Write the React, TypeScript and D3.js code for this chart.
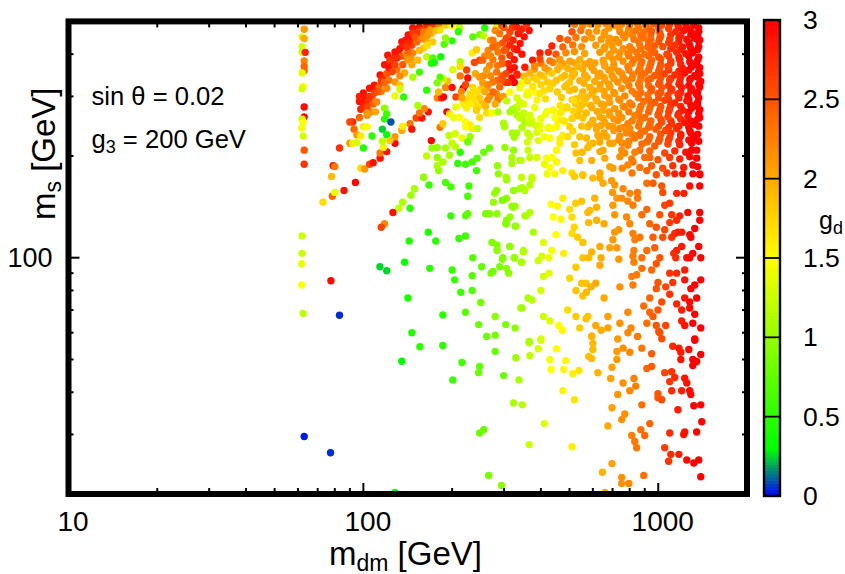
import React from "react";
import * as d3 from "d3";

type P = [number, number, number]; // [m_dm, m_s, g_d]

const xMajor = [10, 100, 1000];
const xMinor = [20, 30, 40, 50, 60, 70, 80, 90, 200, 300, 400, 500, 600, 700, 800, 900];
const yMajor = [100];
const yMinor = [30, 40, 50, 60, 70, 80, 90, 200, 300, 400];
const barTicks = [0, 0.5, 1, 1.5, 2, 2.5, 3];
const barLabels = ["0", "0.5", "1", "1.5", "2", "2.5", "3"];
const paletteStops = [0, 0.3, 1.5, 3];
const paletteColours = ["#0000ff", "#00ff00", "#ffff00", "#ff0000"];

const stripPoints: P[] = [
  [63,474,2.1],[62,450,1.3],[63,445,2.0],[62,421,1.3],[62,405,1.25],[63.5,405,2.8],[63,382,2.2],[63,368,2.4],[63,357,2.4],[62,352,1.35],
  [62.5,321,1.5],[62,316,1.3],[63,279,2.95],[63,261,2.95],[62,257,1.25],[62.5,252,1.5],[61.8,242,1.45],[62.5,229,1.3],[63,208,2.5],[63,189,2.7],
  [62,116,1.25],[62,103,1.25],[61.8,96,1.4],[61.8,83,1.5],[62.5,68.4,1.2],[77.6,85.5,2.95],[83,67.6,0.05],[63,29.6,0.03],[77.4,26.5,0.05],
];

const ridgeOnePoints: P[] = [
  [100,307,2.9],[101,297,2.9],[105,317,2.9],[109,324,2.9],[114,347,2.9],[118,372,2.9],[121,397,2.9],[128,406,2.9],[135,435,2.9],[142,456,2.9],[147,478,2.9],[155,481,2.9],[164,485,2.8],
  [104,290,2.7],[107,300,2.5],[110,315,2.9],[113,320,2.4],[116,340,2.8],[120,350,2.5],[122,365,2.9],[125,380,2.9],[127,390,2.8],[131,400,2.9],[133,415,2.9],[137,425,2.85],[139,440,2.9],[144,445,2.9],[146,425,2.6],[150,435,2.6],[152,460,2.8],[156,470,2.7],[160,450,2.2],[163,440,2.0],[170,460,1.9],[135,395,2.5],[140,400,2.2],[145,390,2.1],[130,360,2.3],[122,335,2.3],[115,310,2.2],[108,285,2.4],[106,270,2.2],[110,270,2.0],[100,285,2.8],[98,275,2.8],[97,290,2.9],[97,300,2.85],
  [172,485,2.7],[180,490,2.3],[190,488,1.8],[200,485,1.5],[212,480,1.2],
  [103,279,2.6],[103,264,2.2],[111,289,2.2],[120,317,2.2],[128,331,2.1],[138,352,2.0],[146,372,2.0],[153,384,1.9],[160,417,1.8],[172,435,1.8],[147,403,2.2],[136,372,2.5],[128,372,2.6],[123,384,2.7],[142,406,2.4],[152,435,2.4],[160,466,2.3],[168,472,2.1],[147,462,2.7],[142,432,2.8],
  [105,300,2.7],[109,307,2.6],[115,333,2.7],[125,355,2.6],[130,390,2.75],[140,420,2.7],[150,450,2.5],[158,445,2.2],[165,455,2.1],[112,310,2.5],[118,330,2.4],[133,345,2.2],[141,385,2.1],[155,410,1.9],[165,425,1.7],[176,470,1.9],
  [133,324,1.8],[128,301,1.4],[133,315,1.3],[137,299,0.5],[118,277,0.95],[120,266,0.6],[118,257,0.5],[124,252,0.1],[116,240,0.25],[120,231,0.35],[107,229,0.5],[100,211,0.45],[147,342,1.1],[155,354,0.6],[164,313,0.5],[164,393,1.2],[172,390,0.7],[170,376,0.45],[174,378,0.4],[183,393,0.4],[188,428,0.7],[190,447,1.0],[200,438,0.5],[210,466,0.5],[182,472,1.7],
  [92,252,2.8],[90,252,2.6],[93,240,2.4],[95,231,2.1],[98,229,1.6],[100,244,1.6],[103,244,1.5],[97,260,2.4],[103,268,2.1],[90,218,2.1],[92,218,1.6],[95,219,1.3],[83,211,2.7],[79,187,2.9],[80,186,2.3],[78,174,1.9],[78.5,152,2.4],[80,156,1.4],[73,146,1.7],[86,158,2.9],[94,167,3],
  [98,184,1.7],[101,183,2.1],[105,189,2.6],[108,191,2.9],[114,197,2.9],[114,204,2.3],[120,206,2.9],[117,212,1.6],[116,221,1.2],[128,218,3],[128,228,2.1],[123,222,1.8],[135,238,2.0],[136,245,1.6],[144,249,2.3],[146,240,2.9],[151,259,2.6],[158,259,2.9],[155,268,2.3],[166,270,2.9],[161,276,2.2],[153,282,1.1],
];

const ridgeTwoPoints: P[] = [
  [182,243,2.3],[186,249,1.8],[170,222,3],[192,270,3],[196,266,1.6],[178,297,2.2],[184,297,2.8],[187,299,3],[180,309,1.9],[190,319,2.2],[200,319,2.9],[193,333,1.9],[187,338,1.3],[182,342,0.7],[178,329,0.9],[218,317,3],[206,299,2.6],[213,345,2.3],[226,340,2.9],[224,359,2.6],[238,378,2.6],[248,384,2.6],[234,403,1.6],[242,412,1.8],[235,450,0.7],[248,457,0.9],[256,453,1.2],[258,478,0.5],[283,481,1.3],[213,380,1.1],[201,360,1.3],[213,368,1.7],
  [270,440,2.1],[280,470,2.2],[295,485,2.6],[310,450,2.4],[320,480,2.7],[335,460,2.9],[345,475,2.8],[365,470,2.9],[340,430,2.9],[325,415,2.7],[305,415,2.6],[285,425,2.3],[265,410,2.2],[258,395,2.2],[275,385,2.3],[295,390,2.5],[310,375,2.8],[325,365,2.9],[268,370,2.2],[285,370,2.3],[240,350,2.0],[255,345,2.2],[270,345,2.2],[295,345,2.5],[305,330,2.8],[325,330,3],[285,335,2.4],[262,318,2.1],[250,315,1.8],[230,305,1.7],[218,285,1.6],[238,285,1.7],[252,285,1.9],[268,300,2.2],[283,305,2.2],[215,310,2.2],[222,325,2.6],
  [275,420,2.4],[290,460,2.3],[314,466,2.6],[331,481,2.8],[358,490,2.7],[351,450,2.9],[332,412,2.9],[314,426,2.8],[297,432,2.5],[275,440,2.3],[286,406,2.3],[314,397,2.7],[254,384,2.4],[262,359,2.1],[248,342,2.1],[283,354,2.3],[314,359,2.9],[332,347,3],[319,340,3],[297,335,2.5],[275,331,2.3],[254,329,2.1],[242,309,1.7],[235,319,1.7],[275,309,2.4],[286,293,2.3],[264,293,2.2],[248,297,1.8],[235,297,1.7],[224,293,1.7],[216,297,2.0],
  [300,480,2.5],[305,445,2.6],[322,440,2.8],[340,470,2.8],[300,410,2.5],[325,385,2.9],[345,400,2.9],[270,395,2.2],[295,375,2.4],[305,350,2.6],[265,325,2.2],[290,320,2.4],[310,330,2.7],[258,310,2.0],[230,285,1.6],[245,280,1.7],[260,280,1.9],[280,285,2.0],[298,300,2.1],
  [206,279,1.4],[224,277,1.6],[242,273,1.8],[248,260,1.7],[262,268,1.7],[202,260,1.4],[212,260,1.5],[222,252,1.5],[230,247,1.6],[234,241,1.6],[222,244,1.5],[205,233,1.3],[216,226,1.4],[230,228,1],[226,220,0.8],[195,230,1.2],[200,218,1.2],[205,213,1.2],[244,241,1.2],[273,268,1.5],[286,270,1.1],[314,270,1.1],[306,291,1.2],[331,279,1.2],[332,297,1.3],[332,264,1.1],[339,259,1.2],[353,252,1.1],[299,250,1.1],[301,244,1.1],[320,234,1.1],[331,234,1.1],[302,212,1],[323,208,1],[319,198,1.1],[319,190,1.1],[343,194,1.2],
];

const midPoints: P[] = [
  [268,211,0.8],[256,205,0.8],[243,197,0.7],[234,192,0.65],[222,189,0.6],[242,181,0.6],[209,190,0.5],[180,181,1],[178,187,1.1],[186,192,1.1],[196,201,1.1],[178,198,1],[190,211,1.1],[164,200,1.2],[171,211,1],[178,212,1],[213,205,0.5],[160,173,1],[285,187,1],[287,177,1],[305,173,1.1],[344,173,1.2],[373,173,1.3],
  [314,309,1.5],[362,303,1.45],[381,309,1.5],[388,293,1.55],[332,277,1.2],[367,264,1.3],[373,255,1.35],[397,247,1.4],[423,241,1.5],[440,273,1.6],[470,270,1.65],[490,279,1.7],[510,293,1.75],[542,297,1.8],[550,283,1.9],[456,255,1.6],[452,244,1.55],[501,244,1.75],[555,259,1.85],[577,244,1.9],[360,234,1.25],[388,235,1.3],[411,228,1.45],[429,226,1.5],[475,230,1.6],[493,228,1.7],[392,222,1.35],[360,220,1.3],[464,218,1.6],[452,208,1.55],[436,198,1.5],[418,197,1.45],[388,198,1.3],[362,208,1.25],[367,198,1.2],[339,194,1.1],[411,189,1.4],[429,185,1.5],[452,192,1.55],[420,177,1.4],[446,177,1.55],[475,181,1.6],[510,178,1.7],[555,176,1.8],[634,178,2],[702,184,2.1],
  [526,204,1.85],[542,194,1.85],[520,216,1.8],[571,226,1.9],[600,218,1.95],[634,220,2],[669,228,2],[624,230,2],[650,208,2],[595,194,1.95],[702,218,2.05],[577,212,1.9],[552,205,1.9],[618,244,2],[702,244,2.1],[741,241,2.2],[781,234,2.2],[755,218,2.2],[770,204,2.2],[866,230,2.3],[915,220,2.35],[833,230,2.3],[866,208,2.35],[936,198,2.4],[821,192,2.3],[755,184,2.2],[815,178,2.3],[915,181,2.4],[985,176,2.5],[1070,178,2.65],[1138,177,2.8],[1210,177,2.9],[1310,177,3],[1383,176,3],[1298,208,3],
  [520,174,1.8],[555,175,1.85],[600,172,1.9],[634,172,2],[650,166,2],[695,169,2.1],[712,164,2.1],[760,160,2.2],[700,156,2.1],[724,150,2.1],[752,150,2.15],[801,155,2.2],[850,156,2.3],[789,147,2.2],[821,143,2.25],[851,150,2.3],[915,166,2.35],[960,166,2.45],[1028,163,2.5],[1036,156,2.55],[1155,155,2.8],[1222,155,2.85],[1279,163,2.9],[1383,163,3],[1383,177,3],[1052,143,2.6],[1094,145,2.65],[1111,134,2.7],[1012,134,2.5],[915,139,2.4],[880,134,2.35],[936,126,2.4],[985,123,2.5],[1052,121,2.6],[1036,115,2.55],[1111,115,2.7],[1138,118,2.75],[1166,119,2.8],[1201,119,2.85],[1094,127,2.65],[1155,129,2.75],[1183,133,2.8],[1260,136,2.95],[1383,136,3],[1383,129,3],[1330,122,3],[1279,117,2.95],[1290,115,2.95],[1372,108,3],[1201,108,2.85],[1155,105,2.8],[1129,103,2.75],[1147,100,2.75],[1250,100,2.9],[1310,103,3],[1394,100,3],[1279,100,2.95],
  [973,107,2.45],[915,105,2.35],[1012,100,2.5],[985,96,2.5],[827,105,2.25],[821,101,2.25],[827,97,2.25],[880,100,2.35],[821,118,2.25],[833,113,2.25],[866,115,2.3],[960,115,2.45],[712,119,2.1],[735,121,2.1],[801,126,2.2],[781,132,2.2],[712,134,2.1],[702,143,2.1],[655,126,2],[618,129,1.95],[581,127,1.9],[577,136,1.9],[609,150,1.95],[618,141,1.95],[550,147,1.85],[525,145,1.8],[501,139,1.7],[510,132,1.7],[440,132,1.5],[468,130,1.55],[456,142,1.55],[475,150,1.6],[433,144,1.5],[367,136,1.15],[353,133,1.1],[327,124,1],[306,129,0.95],[304,126,0.95],[296,148,0.9],[322,141,1],[345,161,1.1],[367,164,1.15],[339,160,1.1],[323,158,1],[373,171,1.2],
  [377,119,1.1],[408,111,1.35],[450,117,1.5],[436,105,1.45],[478,103,1.6],[403,101,1.3],[426,100,1.4],[392,98,1.25],[349,104,1.15],[314,108,1],[325,100,1],[343,97,1.1],[297,100,0.9],[290,94,0.9],[306,93,0.95],[311,90,0.95],[408,88,1.3],[426,90,1.35],[400,80,1.3],[362,76,1.1],[373,75,1.15],[345,71,1.05],[408,67,1.25],[429,65,1.35],[460,63,1.5],[473,61,1.55],[400,57.5,1.3],[365,56.5,1.1],
  [493,70,1.7],[526,67,1.8],[569,66,1.85],[577,67,1.85],[542,62,1.8],[595,58.5,1.95],[614,63,2],[640,61,2],[675,62,2.05],[675,67,2.05],[741,64,2.15],[729,57.5,2.1],[809,62,2.2],[789,60,2.2],[851,58.5,2.3],[789,69,2.2],[655,76,2],[501,87,1.75],[526,80,1.85],[550,84,1.85],[569,84,1.85],[591,82,1.95],[614,84,2],[555,77,1.85],[571,79,1.9],[526,93.7,1.8],[555,100,1.85],[581,100,1.9],[595,104,1.95],[634,108,2],[640,100,2],[634,95,2],[685,107,2.05],[724,107,2.1],[735,99,2.1],[510,118,1.7],[533,115,1.8],[555,111,1.85],[519,123,1.75],[586,138,1.9],[702,113,2.1],
  [813,88,2.25],[845,89,2.3],[880,93,2.35],[950,92,2.4],[998,84.5,2.5],[1060,82,2.6],[1094,90,2.7],[1155,90,2.75],[1120,84.5,2.7],[1230,92,2.85],[1230,86,2.9],[1394,86,3],[1330,83,3],[1290,81,2.95],[741,82,2.15],[821,83,2.25],[985,81,2.5],[1094,78,2.7],[936,76,2.4],[1155,73,2.8],[1230,76,2.9],[1350,76,3],[1279,74,2.95],[1028,74,2.55],[998,70,2.5],[893,72,2.35],[936,69,2.4],[960,67,2.45],[915,64,2.35],[985,63,2.5],[1060,63,2.6],[1012,60,2.55],[1201,70,2.85],[1330,68,3],[1279,71,2.95],[1201,65,2.85],[1230,63,2.9],[1310,64,3],[1394,62,3],[1330,57.5,3],
];

const lowerPoints: P[] = [
  [128,20.2,0.3],[135,49.4,0.3],[113.8,94,0.25],[120,91.5,0.25],[138,97,0.35],[141.6,76,0.4],[146,60,0.45],
  [155.5,54.5,0.5],[186,55,0.5],[216,49,0.6],[248,47.7,0.75],[246,45.7,0.8],[201,43.5,0.55],[262,58.5,0.8],[280,59,0.85],[280,52.8,0.8],[299,44.8,0.8],[329,50.6,1.05],[337,43.5,1.1],[365,56,1.2],[392,53.8,1.3],[400,57,1.3],[367,51.3,1.2],[452,53.8,1.5],[429,50,1.45],[486,49.6,1.55],[433,46.7,1.5],[478,46.7,1.55],[513,45.4,1.6],[538,46.4,1.65],[475,40.4,1.55],[520,38,1.65],[323,37.2,1.1],[346,36.7,1.15],[411,32.3,1.35],[365,28,1.25],[510,27.6,1.6],[248,30.3,0.8],[256,31,0.8],[266,22.7,0.85],[294,21.2,0.95],
  [595,58.7,1.9],[600,55.8,1.9],[600,53.5,1.9],[581,51,1.85],[595,50.3,1.9],[624,45.7,1.95],[697,47.4,2.05],[690,43.9,2.05],[760,42.6,2.15],[827,43.9,2.25],[839,41.7,2.25],[801,40.4,2.2],[729,39.4,2.1],[880,36.7,2.35],[697,36,2.05],[770,34.5,2.15],[752,33.2,2.15],[675,31.8,2],[936,32.3,2.4],[873,31,2.35],[813,29.8,2.25],[900,29.8,2.4],[833,28.6,2.3],[845,27.4,2.3],[697,24.6,2.05],[647,23.2,1.95],[752,22.4,2.15],[752,21.5,2.15],[795,21.5,2.2],[893,22.7,2.35],[660,20.2,2],
  [760,54,2.15],[724,52.8,2.1],[801,52.5,2.2],[880,54,2.3],[950,52,2.45],[724,50,2.1],[915,47,2.4],[950,47.7,2.45],[1004,60.5,2.5],[1028,57.6,2.55],[1120,54.7,2.75],[1175,54,2.85],[1193,52.5,2.85],[1270,53.5,2.95],[1330,57,3],[1193,50,2.9],[1310,50,3],[1350,49.3,3],[1394,51.7,3],[1310,48,3],[1052,45.7,2.6],[1111,46,2.7],[1138,44.2,2.75],[1094,43,2.7],[1230,44,2.9],[1250,42.6,2.9],[1111,40.4,2.75],[1201,40.4,2.85],[1279,40.4,2.95],[1290,39.4,2.95],[998,39.6,2.5],[998,38.5,2.5],[1028,38,2.55],[1166,35.5,2.85],[1320,36.5,3],[1394,36.7,3],[1405,32.7,3],[1094,30.3,2.75],[1220,30,2.9],[1230,30.5,2.9],[1350,30.5,3],[1052,27.4,2.65],[1103,26.2,2.75],[1085,25,2.7],[1175,26.2,2.85],[1250,25.2,2.95],[1320,24.7,3],[1372,25.2,3],[1394,22.5,3],
  [160,173,1],[167,164,0.55],[149,160,1.1],[145,153,1.05],[136,146,1.1],[132,140,1.2],[144,140,0.5],[126,136,2.9],[118,126,2.2],[115,123,2.6],[166,119,0.45],[143,112,0.45],[176,112,0.5],[168,93,0.5],[211,114,0.55],[222,116,0.6],[198,133,0.55],[222,133,0.75],[226,135,0.75],[190,167,0.65],[198,162,0.6],[228,163,0.6],[226,152,0.65],[260,135,0.85],[268,135,0.9],[284,135,0.95],[276,146,1],[298,148,1],[306,150,1],[319,142,1.05],[327,142,1.05],[314,132,1],[306,126,1],[329,124,1.05],[356,133,1.1],[273,111,0.9],[284,109,0.95],[284,105,0.95],[314,108,1],[349,105,1.15],[325,100,1],[345,97,1.1],[296,99,0.9],[271,90,0.85],[275,91,0.85],[252,94,0.75],[235,100,0.7],[234,88.5,0.7],[200,92,0.55],[204,86,0.55],[214,79,0.6],[234,80,0.7],[250,73.7,0.85],[222,69,0.7],[186,67.7,0.5],[280,67,0.95],[304,63.4,0.85],[327,62,0.95],[246,63.4,0.8],[342,71,1.1],[283,158,1],[279,155,1],[306,170,1],[353,158,1.15],
];

const denseTopPoints: P[] = [
  [520,490,2.3],[555,486,2.2],[586,491,2.15],[624,488,2.1],[665,492,2.15],[707,487,2.15],[752,490,2.2],[801,488,2.25],[851,491,2.3],[908,486,2.35],[965,492,2.45],[1028,487,2.55],[1094,490,2.65],[1166,486,2.8],[1240,490,2.9],[1320,487,3],
  [510,466,2.5],[546,470,2.3],[581,464,2.15],[618,468,2.1],[659,465,2.1],[741,467,2.2],[789,463,2.2],[839,469,2.3],[893,464,2.35],[950,468,2.45],[1012,463,2.5],[1147,466,2.75],[1220,470,2.9],[1298,464,3],[1372,467,3],
  [464,445,2.5],[493,441,2.4],[526,448,2.3],[563,443,2.15],[595,447,2.1],[640,442,2.1],[685,446,2.1],[718,442,2.15],[770,448,2.2],[827,443,2.3],[893,447,2.35],[944,442,2.4],[1012,446,2.5],[1094,443,2.65],[1175,447,2.8],[1250,442,2.9],[1330,446,3],[1383,441,3],
  [436,423,2.8],[475,420,2.4],[513,426,2.3],[550,421,2.15],[614,425,2.1],[659,420,2.1],[697,424,2.1],[801,421,2.25],[866,425,2.3],[922,420,2.4],[973,424,2.45],[1036,421,2.55],[1138,425,2.7],[1210,420,2.85],[1279,424,2.95],[1372,421,3],
  [397,403,2.85],[424,405,2.7],[450,400,2.5],[486,404,2.2],[520,407,2.15],[563,402,2.05],[634,405,2.1],[685,400,2.1],[741,404,2.15],[789,401,2.25],[845,405,2.3],[900,400,2.35],[973,404,2.45],[1070,400,2.6],[1155,405,2.75],[1240,401,2.9],[1310,404,3],
  [375,384,2.85],[397,387,2.6],[429,382,2.3],[464,386,2.1],[501,381,2.05],[542,385,2],[586,380,2.05],[650,384,2.05],[702,387,2.1],[760,381,2.15],[827,385,2.3],[880,380,2.35],[950,384,2.4],[1020,387,2.5],[1103,381,2.65],[1183,385,2.8],[1279,380,2.95],[1360,384,3],
  [353,366,2.85],[381,369,2.2],[413,364,2.1],[464,368,1.95],[493,363,1.95],[533,367,1.95],[595,365,2.05],[659,369,2.05],[707,364,2.1],[789,367,2.25],[866,363,2.3],[936,368,2.4],[1012,364,2.5],[1078,368,2.6],[1210,363,2.85],[1298,367,3],[1383,365,3],
  [332,349,2.8],[367,352,1.95],[397,347,1.9],[436,351,1.8],[482,346,1.9],[520,350,1.9],[563,347,2],[634,351,2.05],[697,346,2.1],[752,350,2.15],[821,348,2.25],[900,351,2.35],[973,346,2.45],[1052,350,2.6],[1138,347,2.75],[1230,352,2.9],[1330,346,3],[1383,350,3],
  [360,333,1.75],[388,336,1.75],[420,331,1.8],[452,335,1.85],[501,330,1.85],[542,334,1.95],[609,332,2],[659,336,2.05],[729,331,2.15],[775,335,2.2],[866,332,2.3],[922,335,2.4],[1012,331,2.5],[1094,335,2.65],[1183,332,2.8],[1279,336,2.95],[1394,332,3],
  [339,318,1.45],[375,321,1.65],[429,316,1.75],[482,320,1.85],[520,315,1.9],[586,319,1.95],[634,316,2],[685,320,2.05],[752,317,2.15],[866,320,2.3],[950,316,2.45],[1028,319,2.5],[1111,315,2.7],[1201,319,2.85],[1298,316,2.95],[1383,320,3],
  [358,303,1.4],[397,306,1.65],[550,301,1.85],[595,305,1.95],[659,302,2.05],[712,306,2.1],[770,301,2.2],[839,305,2.3],[922,303,2.35],[998,306,2.5],[1078,302,2.6],[1166,305,2.75],[1260,301,2.95],[1350,304,3],
  [339,289,1.3],[517,292,1.7],[563,287,1.85],[618,291,1.95],[685,288,2.05],[741,292,2.15],[801,287,2.25],[893,290,2.35],[973,288,2.45],[1052,292,2.6],[1138,287,2.75],[1250,291,2.9],[1360,288,3],
  [321,275,1.1],[381,278,1.4],[440,273,1.55],[490,277,1.7],[542,274,1.85],[595,278,1.95],[650,273,2],[712,276,2.1],[770,279,2.2],[866,274,2.3],[936,277,2.4],[1012,273,2.5],[1094,276,2.65],[1210,273,2.85],[1298,277,2.95],[1383,274,3],
  [345,262,1.2],[413,265,1.45],[446,260,1.5],[533,263,1.85],[634,261,2],[685,264,2.05],[752,260,2.15],[833,263,2.25],[900,260,2.35],[998,264,2.5],[1078,261,2.6],[1166,264,2.75],[1260,262,2.9],[1383,260,3],
  [367,250,1.25],[482,253,1.65],[586,248,1.95],[659,251,2.05],[729,254,2.15],[789,249,2.25],[866,252,2.3],[936,248,2.4],[1028,252,2.55],[1111,249,2.7],[1230,251,2.9],[1330,248,3],
  [397,239,1.4],[436,241,1.5],[513,237,1.75],[618,240,2],[707,238,2.1],[801,241,2.2],[900,237,2.35],[981,240,2.45],[1060,238,2.6],[1155,241,2.75],[1279,237,2.95],
  [325,227,1.05],[367,229,1.25],[464,225,1.6],[542,228,1.85],[634,226,2],[741,229,2.15],[833,226,2.3],[936,228,2.4],[1012,225,2.5],[1094,227,2.65],[1192,229,2.85],[1320,226,3],
  [586,216,1.9],[685,218,2.05],[789,215,2.2],[880,217,2.35],[973,214,2.45],[1078,217,2.6],[1183,216,2.8],[1298,218,3],
  [634,206,2],[752,208,2.15],[833,205,2.25],[936,207,2.4],[1052,204,2.6],[1138,207,2.75],[1240,205,2.9],[1350,208,3],
  [659,197,2],[741,199,2.15],[813,196,2.25],[900,198,2.35],[998,195,2.5],[1094,198,2.65],[1183,196,2.8],[1279,199,2.95],[1350,197,3],
  [685,186,2.05],[789,188,2.2],[866,185,2.3],[950,187,2.45],[1036,184,2.55],[1120,187,2.7],[1220,185,2.85],[1310,188,3],[1360,186,3],
];

const denseLeftFill: P[] = [
  [400,376,2.3],[440,378,2.2],[475,374,2.1],[520,377,2.05],[565,374,2.05],[610,377,2.05],
  [380,361,2.1],[425,358,2],[455,360,1.95],[510,358,1.95],[555,361,2],[605,358,2.05],
  [350,344,1.9],[378,341,1.8],[410,344,1.8],[470,341,1.85],[510,343,1.9],[575,341,1.95],[625,344,2.05],
  [345,328,1.55],[400,325,1.75],[440,328,1.8],[490,325,1.85],[560,328,1.95],[635,325,2.05],
  [360,309,1.55],[410,312,1.7],[455,309,1.8],[500,312,1.85],[555,309,1.95],[605,312,2],
  [415,295,1.7],[470,298,1.8],[525,295,1.85],[572,298,1.9],[615,295,2],
  [350,285,1.35],[465,282,1.65],[525,285,1.8],[590,282,1.95],[640,285,2],
  [350,268,1.25],[420,271,1.45],[465,268,1.6],[515,271,1.75],[570,268,1.9],[620,271,2],
  [365,255,1.3],[400,258,1.4],[475,255,1.6],[510,258,1.75],[600,255,1.95],[650,258,2],
  [345,243,1.15],[385,246,1.3],[425,243,1.45],[550,245,1.85],[640,246,2],
];

const denseRightFill: P[] = [
  [680,478,2.1],[735,480,2.15],[795,476,2.25],[858,479,2.3],[928,475,2.4],[1004,478,2.5],[1085,476,2.65],[1175,479,2.8],[1270,475,2.95],[1372,478,3],
  [655,456,2.05],[760,455,2.15],[815,458,2.25],[873,454,2.35],[944,457,2.4],[1020,453,2.5],[1103,457,2.7],[1192,454,2.8],[1290,457,2.95],[1360,455,3],
  [680,436,2.1],[735,433,2.15],[858,436,2.3],[928,433,2.4],[1004,436,2.5],[1085,433,2.65],[1175,436,2.8],[1270,433,2.95],[1372,436,3],
  [655,414,2.05],[707,411,2.1],[760,415,2.15],[815,412,2.25],[873,415,2.35],[944,412,2.4],[1103,415,2.7],[1192,412,2.8],[1290,415,2.95],[1360,412,3],
  [680,395,2.1],[735,392,2.15],[795,395,2.25],[858,392,2.3],[928,395,2.4],[1004,392,2.5],[1085,395,2.65],[1175,392,2.8],[1270,395,2.95],[1372,392,3],
  [655,376,2.05],[707,373,2.1],[815,376,2.25],[873,373,2.35],[944,376,2.4],[1020,373,2.5],[1103,376,2.7],[1192,373,2.8],[1290,376,2.95],[1350,373,3],
  [680,359,2.1],[735,356,2.15],[795,359,2.25],[858,356,2.3],[928,359,2.4],[1004,356,2.5],[1085,359,2.65],[1175,356,2.8],[1270,359,2.95],[1372,356,3],
  [655,342,2.05],[707,339,2.1],[760,342,2.15],[815,339,2.25],[873,342,2.35],[944,339,2.4],[1020,342,2.5],[1103,339,2.7],[1192,342,2.8],[1290,339,2.95],[1360,342,3],
  [680,326,2.1],[795,323,2.25],[858,326,2.3],[928,323,2.4],[1004,326,2.5],[1085,323,2.65],[1175,326,2.8],[1270,323,2.95],[1372,326,3],
  [655,311,2.05],[707,308,2.1],[815,311,2.25],[873,308,2.35],[944,311,2.4],[1020,308,2.5],[1103,311,2.7],[1192,308,2.8],[1290,311,2.95],[1360,308,3],
  [680,297,2.1],[735,294,2.15],[858,297,2.3],[928,294,2.4],[1004,297,2.5],[1085,294,2.65],[1175,297,2.8],[1270,294,2.95],[1372,297,3],
  [655,283,2.05],[760,280,2.15],[815,283,2.25],[873,280,2.35],[944,283,2.4],[1020,280,2.5],[1103,283,2.7],[1192,280,2.8],[1290,283,2.95],[1360,280,3],
  [680,270,2.1],[735,267,2.15],[795,270,2.25],[858,267,2.3],[928,270,2.4],[1004,267,2.5],[1085,270,2.65],[1175,267,2.8],[1270,270,2.95],[1372,267,3],
  [707,257,2.1],[815,254,2.25],[873,257,2.35],[944,254,2.4],[1020,257,2.5],[1103,254,2.7],[1192,257,2.8],[1290,254,2.95],[1360,257,3],
  [680,245,2.1],[760,243,2.15],[858,245,2.3],[928,243,2.4],[1004,245,2.5],[1085,243,2.65],[1175,245,2.8],[1270,243,2.95],[1372,245,3],
  [655,234,2.05],[815,232,2.25],[873,234,2.35],[1020,232,2.5],[1103,234,2.7],[1192,232,2.8],[1290,234,2.95],[1360,232,3],
  [735,223,2.15],[795,221,2.25],[928,223,2.4],[1004,221,2.5],[1085,223,2.65],[1175,221,2.8],[1270,223,2.95],[1372,221,3],
];

const allPoints: P[] = [...stripPoints, ...lowerPoints, ...midPoints, ...ridgeOnePoints, ...ridgeTwoPoints, ...denseLeftFill, ...denseRightFill, ...denseTopPoints];

const sans = "'Liberation Sans', Arial, sans-serif";

export default function App() {
  const x = d3.scaleLog().domain([10, 2000]).range([68.5, 747]);
  const y = d3.scaleLog().domain([20, 500]).range([494, 21.4]);
  const palette = d3.scaleLinear<string>().domain(paletteStops).range(paletteColours).interpolate(d3.interpolateRgb);
  const bar = d3.scaleLinear().domain([0, 3]).range([496, 20]);
  const barSteps = d3.range(0, 3, 0.02);
  const [xl, xr] = x.range();
  const [yb, yt] = y.range();
  const barL = 764;
  const barR = 780;

  return (
    <svg width={845} height={574} style={{ position: "absolute", left: 0, top: 0, background: "#fff" }} fontFamily={sans} fill="#000">
      {allPoints.map((p, i) => (
        <circle key={i} cx={x(p[0])} cy={y(p[1])} r={3.7} fill={palette(p[2])} />
      ))}

      <rect x={xl} y={yt} width={xr - xl} height={yb - yt} fill="none" stroke="#000" strokeWidth={6} />
      {xMajor.slice(1).map((t) => (
        <g key={t} stroke="#000" strokeWidth={2}>
          <line x1={x(t)} x2={x(t)} y1={yb} y2={yb - 11} />
          <line x1={x(t)} x2={x(t)} y1={yt} y2={yt + 11} />
        </g>
      ))}
      {xMinor.map((t) => (
        <g key={t} stroke="#000" strokeWidth={2}>
          <line x1={x(t)} x2={x(t)} y1={yb} y2={yb - 6} />
          <line x1={x(t)} x2={x(t)} y1={yt} y2={yt + 6} />
        </g>
      ))}
      {yMajor.map((t) => (
        <g key={t} stroke="#000" strokeWidth={2}>
          <line y1={y(t)} y2={y(t)} x1={xl} x2={xl + 11} />
          <line y1={y(t)} y2={y(t)} x1={xr} x2={xr - 11} />
        </g>
      ))}
      {yMinor.map((t) => (
        <g key={t} stroke="#000" strokeWidth={2}>
          <line y1={y(t)} y2={y(t)} x1={xl} x2={xl + 5} />
          <line y1={y(t)} y2={y(t)} x1={xr} x2={xr - 5} />
        </g>
      ))}

      {xMajor.map((t) => (
        <text key={t} x={x(t) + 4.5} y={531} fontSize={28} textAnchor="middle">{t}</text>
      ))}
      {yMajor.map((t) => (
        <text key={t} x={52.5} y={267} fontSize={27} textAnchor="end">{t}</text>
      ))}

      <text x={329} y={565} fontSize={33}>m<tspan fontSize={23} dy={6}>dm</tspan><tspan dy={-6}> [GeV]</tspan></text>
      <text transform="translate(55,220) rotate(-90)" fontSize={33}>m<tspan fontSize={23} dy={6}>s</tspan><tspan dy={-6}> [GeV]</tspan></text>

      <text x={91.5} y={105} fontSize={25.6}>sin θ = 0.02</text>
      <text x={91.5} y={148} fontSize={25.6}>g<tspan fontSize={18} dy={5}>3</tspan><tspan dy={-5}> = 200 GeV</tspan></text>

      {barSteps.map((v) => (
        <rect key={v} x={barL} width={barR - barL} y={bar(v + 0.02)} height={bar(v) - bar(v + 0.02) + 0.6} fill={palette(v + 0.01)} />
      ))}
      <rect x={barL} y={bar(3)} width={barR - barL} height={bar(0) - bar(3)} fill="none" stroke="#000" strokeWidth={2.4} />
      {barTicks.map((t, i) => (
        <g key={t}>
          {t > 0 && t < 3 && <line x1={barL} x2={barR} y1={bar(t)} y2={bar(t)} stroke="#000" strokeWidth={1.8} />}
          <text x={803} y={bar(t) + 9} fontSize={26.5}>{barLabels[i]}</text>
        </g>
      ))}
      <text x={819} y={229} fontSize={25}>g<tspan fontSize={18} dy={5}>d</tspan></text>
    </svg>
  );
}
